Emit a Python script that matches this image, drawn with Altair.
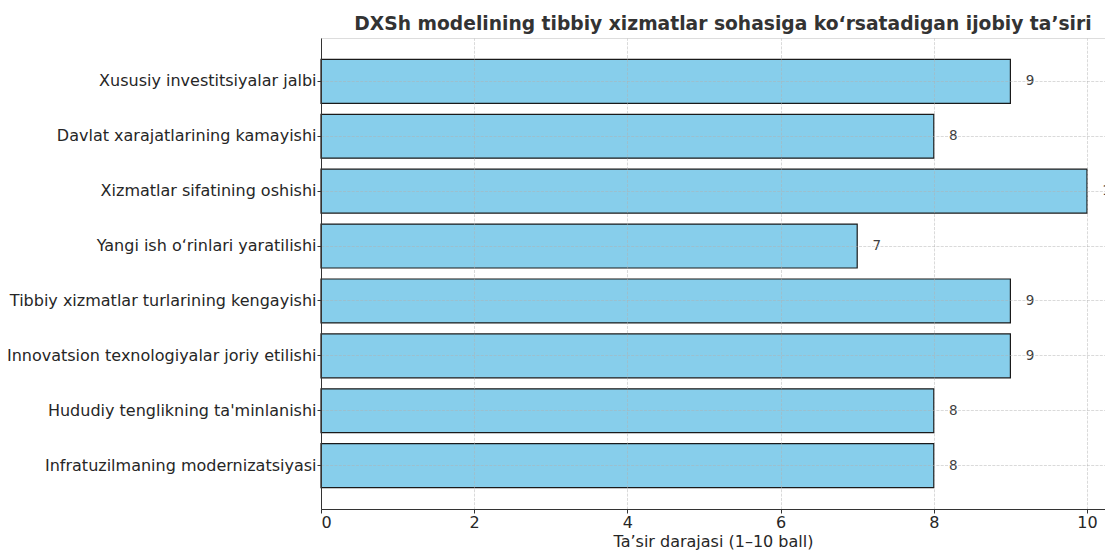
import altair as alt
import pandas as pd

categories = [
    "Xususiy investitsiyalar jalbi",
    "Davlat xarajatlarining kamayishi",
    "Xizmatlar sifatining oshishi",
    "Yangi ish o\u2018rinlari yaratilishi",
    "Tibbiy xizmatlar turlarining kengayishi",
    "Innovatsion texnologiyalar joriy etilishi",
    "Hududiy tenglikning ta'minlanishi",
    "Infratuzilmaning modernizatsiyasi",
]
values = [9, 8, 10, 7, 9, 9, 8, 8]
x_ticks = [0, 2, 4, 6, 8, 10]

df = pd.DataFrame({"cat": categories, "val": values})

FONT = "DejaVu Sans"
GRID = dict(grid=True, gridColor="#b0b0b0", gridOpacity=0.6, gridDash=[3, 1.3], gridWidth=0.8)

y_enc = alt.Y(
    "cat:N",
    sort=categories,
    title=None,
    scale=alt.Scale(paddingInner=0.2, paddingOuter=0.39),
    axis=alt.Axis(
        bandPosition=0.5,
        tickSize=4,
        tickColor="#333333",
        domainColor="#333333",
        domainWidth=1,
        labelFont=FONT,
        labelFontSize=16,
        labelColor="#262626",
        labelPadding=1,
        labelLimit=400,
        zindex=1,
        **GRID,
    ),
)

bars = alt.Chart(df).mark_bar(
    color="#87CEEB", stroke="#1a1a1a", strokeWidth=1.2
).encode(
    x=alt.X(
        "val:Q",
        scale=alt.Scale(domain=[0, 10.235], nice=False, zero=True),
        title="Ta\u2019sir darajasi (1\u201310 ball)",
        axis=alt.Axis(
            values=x_ticks,
            format="d",
            tickSize=4,
            tickColor="#333333",
            domainColor="#333333",
            domainWidth=1,
            labelFont=FONT,
            labelFontSize=16,
            labelColor="#262626",
            labelPadding=1,
            titleFont=FONT,
            titleFontSize=16,
            titleFontWeight="normal",
            titleColor="#262626",
            titlePadding=3,
            zindex=1,
            **GRID,
        ),
    ),
    y=y_enc,
)

labels = alt.Chart(df).transform_calculate(
    pos="datum.val + 0.2"
).mark_text(
    align="left", baseline="middle", font=FONT, fontSize=13.5, color="#404040"
).encode(
    x=alt.X("pos:Q"),
    y=alt.Y("cat:N", sort=categories),
    text=alt.Text("val:Q"),
)

chart = alt.layer(bars, labels).properties(
    width=784,
    height=471,
    title=alt.TitleParams(
        "DXSh modelining tibbiy xizmatlar sohasiga ko\u2018rsatadigan ijobiy ta\u2019siri",
        font=FONT,
        fontSize=18.7,
        fontWeight="bold",
        color="#333333",
        anchor="middle",
        frame="group",
        dx=10,
        offset=4,
    ),
    autosize=alt.AutoSizeParams(type="none"),
    padding={"left": 313, "top": 30, "right": 0, "bottom": 41},
).configure_view(stroke=None).configure(background="white")

chart.save("out.html", embed_options={"renderer": "svg", "actions": False})
